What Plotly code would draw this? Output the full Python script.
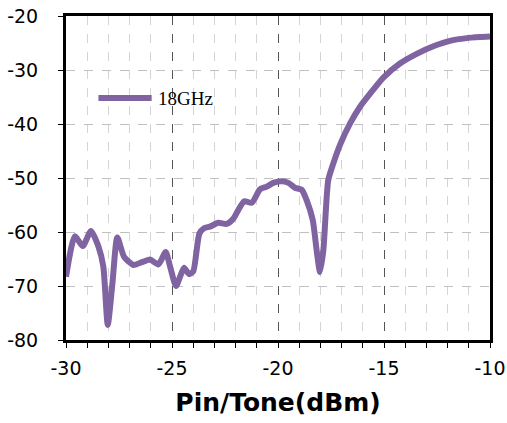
import plotly.graph_objects as go

# Pin/Tone sweep (dBm) and measured response at 18 GHz (dB)
pin_dbm = [-30.0, -29.58, -29.21, -28.82, -28.47, -28.24, -28.03, -27.81, -27.58,
           -27.26, -26.82, -26.35, -26.04, -25.64, -25.3, -25.09, -24.81, -24.62,
           -24.43, -24.2, -24.0, -23.71, -23.49, -23.21, -22.81, -22.42, -22.1,
           -21.87, -21.59, -21.24, -20.85, -20.53, -20.22, -19.83, -19.51, -19.2,
           -18.88, -18.65, -18.36, -18.18, -18.02, -17.86, -17.63, -17.39, -17.08,
           -16.6, -16.13, -15.66, -15.03, -14.25, -13.46, -12.67, -11.89, -11.1,
           -10.47, -10.0]
resp_18ghz = [-68.3, -60.8, -62.6, -59.8, -62.7, -66.4, -77.2, -69.5, -61.0,
              -64.6, -66.1, -65.5, -65.1, -66.0, -63.7, -66.4, -70.0, -68.3,
              -66.6, -67.8, -67.3, -60.3, -59.3, -59.0, -58.3, -58.5, -57.5,
              -55.9, -54.3, -54.6, -52.1, -51.6, -50.9, -50.6, -50.9, -51.8,
              -52.2, -54.1, -57.8, -63.3, -67.4, -63.3, -50.4, -47.3, -43.9,
              -39.9, -36.8, -34.4, -31.4, -28.8, -27.0, -25.6, -24.6, -24.1,
              -23.9, -23.8]

x_ticks = [-30, -25, -20, -15, -10]
y_ticks = [-80, -70, -60, -50, -40, -30, -20]

series_name = "18GHz"
x_title = "Pin/Tone(dBm)"
line_color = "#8064A2"

fig = go.Figure()
fig.add_trace(go.Scatter(
    x=pin_dbm, y=resp_18ghz, mode="lines", name=series_name,
    line=dict(color=line_color, width=6, shape="spline", smoothing=0.6),
    showlegend=False, cliponaxis=True,
))

tick_font = dict(family="Verdana, DejaVu Sans, sans-serif", size=19, color="#000")

fig.update_xaxes(
    range=[-30, -10], tickvals=x_ticks, ticktext=[str(v) for v in x_ticks],
    automargin=False,
    showline=True, linewidth=3, linecolor="#000", mirror=True,
    ticks="outside", ticklen=5, tickwidth=1, tickcolor="#000",
    ticklabelstandoff=4, ticklabeloverflow="allow",
    showgrid=True, gridcolor="#555", griddash="dash", gridwidth=1,
    minor=dict(dtick=1, showgrid=True, gridcolor="#d4d4d4", griddash="dash",
               ticks="outside", ticklen=5, tickcolor="#000"),
    tickfont=tick_font, zeroline=False,
    title=dict(text=x_title, font=dict(family="Verdana, DejaVu Sans, sans-serif",
                                       size=25, color="#000", weight="bold"),
               standoff=16),
)
fig.update_yaxes(
    range=[-80, -20], tickvals=y_ticks, ticktext=[str(v) for v in y_ticks],
    automargin=False,
    showline=True, linewidth=3, linecolor="#000", mirror=True,
    ticks="outside", ticklen=5, tickwidth=1, tickcolor="#000",
    ticklabelstandoff=16, ticklabeloverflow="allow",
    showgrid=True, gridcolor="#c0c0c0", griddash="dash", gridwidth=1,
    tickfont=tick_font, zeroline=False,
)

# Legend sample: line swatch plus label inside the plot area
fig.add_shape(type="line", xref="x", yref="y", x0=-28.47, x1=-25.96, y0=-35.2, y1=-35.2,
              line=dict(color=line_color, width=6), layer="above")
fig.add_annotation(x=-25.75, y=-35.2, xref="x", yref="y", text=series_name,
                   showarrow=False, xanchor="left", yanchor="middle",
                   font=dict(family="Liberation Serif, Times New Roman, serif",
                             size=19, color="#000"))

fig.update_layout(
    width=507, height=423,
    margin=dict(l=66, r=17, t=16, b=83),
    plot_bgcolor="#fff", paper_bgcolor="#fff",
)

fig.write_html("out.html")
